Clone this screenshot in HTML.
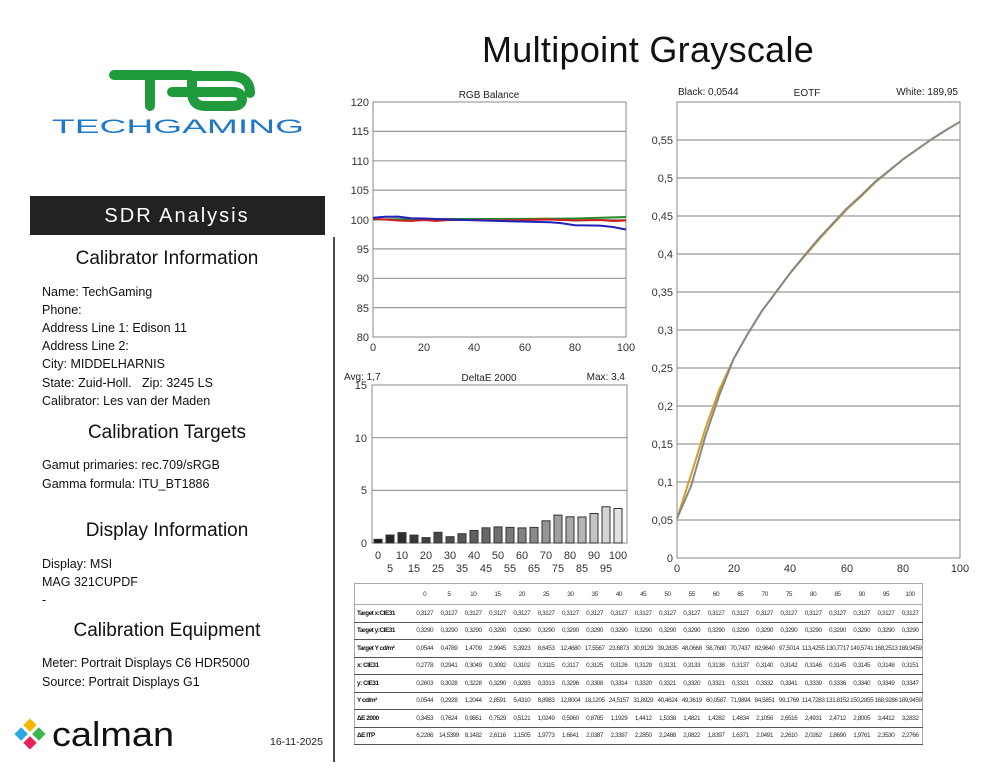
<!DOCTYPE html>
<html><head><meta charset="utf-8"><style>
body{margin:0;width:994px;height:768px;background:#fff;position:relative;overflow:hidden;font-family:"Liberation Sans",sans-serif;color:#111}
.a{position:absolute;white-space:nowrap}
.h{font-size:19px;left:0;width:334px;text-align:center}
.l{font-size:12.5px;left:42px}
table{position:absolute;left:354px;top:583px;border-collapse:collapse;font-size:6.4px;letter-spacing:-0.45px;table-layout:fixed;width:568px}
td{border-bottom:1.5px solid #555;height:16.5px;padding:0;text-align:center;width:24.3px;color:#333;overflow:hidden}
td:first-child{text-align:left;font-weight:bold;width:58px;color:#111;padding-left:2px;border-left:1px solid #aaa}
tr:first-child td{height:20px;border-bottom:1px solid #aaa;border-top:1px solid #aaa}
td:last-child{border-right:1px solid #aaa}
</style></head><body>
<div class="a" style="left:482px;top:29px;font-size:36px;letter-spacing:0.3px">Multipoint Grayscale</div>
<svg class="a" style="left:0;top:0" width="994" height="768">
<g fill="none" stroke="#1f9a3d" stroke-width="10" stroke-linecap="round">
<path d="M114 75 H190 M150 75 V106"/>
<path d="M172 92 H232 Q242 92 242 99 Q242 106 232 106 H205 Q192 106 192 92 V76 H230 Q250 76 250 93"/>
</g>
<text x="52" y="133" font-size="19" fill="#1e78c8" font-family="Liberation Sans" textLength="252" lengthAdjust="spacingAndGlyphs" transform="translate(0,0)">TECHGAMING</text>
<rect x="30" y="196" width="295" height="39" fill="#222"/>
<text x="177" y="222" font-size="20" fill="#fff" text-anchor="middle" letter-spacing="2">SDR Analysis</text>
<line x1="334" y1="237" x2="334" y2="762" stroke="#111" stroke-width="1.5"/>
<g transform="translate(30,734) rotate(45)"><rect x="-11" y="-11" width="9.5" height="9.5" fill="#f5b800"/><rect x="1.5" y="-11" width="9.5" height="9.5" fill="#3cb54a"/><rect x="-11" y="1.5" width="9.5" height="9.5" fill="#2aa8e0"/><rect x="1.5" y="1.5" width="9.5" height="9.5" fill="#e4245b"/></g>
<text x="52" y="746" font-size="34" fill="#111" textLength="122" lengthAdjust="spacingAndGlyphs">calman</text>
<text x="270" y="745" font-size="10.5" fill="#222">16-11-2025</text>
<g stroke="#999" stroke-width="1.2">
<line x1="373" x2="626" y1="307.6" y2="307.6"/><line x1="373" x2="626" y1="278.3" y2="278.3"/><line x1="373" x2="626" y1="248.9" y2="248.9"/><line x1="373" x2="626" y1="219.5" y2="219.5"/><line x1="373" x2="626" y1="190.1" y2="190.1"/><line x1="373" x2="626" y1="160.8" y2="160.8"/><line x1="373" x2="626" y1="131.4" y2="131.4"/>
</g>
<rect x="373" y="102" width="253" height="235" fill="none" stroke="#888"/>
<g font-size="11" fill="#333" text-anchor="end">
<text x="369" y="341">80</text><text x="369" y="312">85</text><text x="369" y="282">90</text><text x="369" y="253">95</text><text x="369" y="224">100</text><text x="369" y="194">105</text><text x="369" y="165">110</text><text x="369" y="135">115</text><text x="369" y="106">120</text>
</g>
<g font-size="11" fill="#333" text-anchor="middle"><text x="373" y="351">0</text><text x="424" y="351">20</text><text x="474" y="351">40</text><text x="525" y="351">60</text><text x="575" y="351">80</text><text x="626" y="351">100</text></g>
<text x="489" y="98" font-size="10" text-anchor="middle" fill="#222">RGB Balance</text>
<polyline fill="none" stroke="#2a8a2a" stroke-width="2" points="373,219.5 424,219 474,219 525,218.9 575,218.5 626,217"/>
<polyline fill="none" stroke="#cc2020" stroke-width="2" points="373,219 385,219.5 398,220.5 411,221 424,220 436,221 449,220 474,220 500,220.5 525,220 550,219.5 575,220.5 600,220 613,221 626,220.5"/>
<polyline fill="none" stroke="#2222bb" stroke-width="2" points="373,217.7 385,216.8 398,216.6 411,218.3 424,218.5 449,219.5 474,220.3 500,221 525,221.6 550,222.2 560,223 575,225.2 600,225.6 613,227 620,228.4 626,229.5"/>
<g stroke="#999" stroke-width="1.2"><line x1="372" x2="627" y1="490.4" y2="490.4"/><line x1="372" x2="627" y1="437.7" y2="437.7"/></g>
<rect x="372" y="385" width="255" height="158" fill="none" stroke="#888"/>
<g font-size="11" fill="#333" text-anchor="end"><text x="367" y="547">0</text><text x="367" y="494">5</text><text x="367" y="442">10</text><text x="367" y="389">15</text></g>
<text x="344" y="380" font-size="10" fill="#222">Avg: 1,7</text><text x="489" y="381" font-size="10" text-anchor="middle" fill="#222">DeltaE 2000</text><text x="625" y="380" font-size="10" text-anchor="end" fill="#222">Max: 3,4</text>
<g stroke="#333" stroke-width="1">
<rect x="374" y="539.3" width="8" height="3.7" fill="#1a1a1a"/><rect x="386" y="535" width="8" height="8" fill="#262626"/><rect x="398" y="532.6" width="8" height="10.4" fill="#2e2e2e"/><rect x="410" y="535.1" width="8" height="7.9" fill="#383838"/><rect x="422" y="537.6" width="8" height="5.4" fill="#404040"/><rect x="434" y="532.3" width="8" height="10.7" fill="#484848"/><rect x="446" y="536.7" width="8" height="6.3" fill="#505050"/><rect x="458" y="533.7" width="8" height="9.3" fill="#585858"/><rect x="470" y="530.5" width="8" height="12.5" fill="#606060"/><rect x="482" y="527.8" width="8" height="15.2" fill="#686868"/><rect x="494" y="526.9" width="8" height="16.1" fill="#707070"/><rect x="506" y="527.4" width="8" height="15.6" fill="#797979"/><rect x="518" y="527.9" width="8" height="15.1" fill="#828282"/><rect x="530" y="527.4" width="8" height="15.6" fill="#8b8b8b"/><rect x="542" y="520.8" width="8" height="22.2" fill="#959595"/><rect x="554" y="515.1" width="8" height="27.9" fill="#a0a0a0"/><rect x="566" y="516.8" width="8" height="26.2" fill="#aaa"/><rect x="578" y="517" width="8" height="26" fill="#b6b6b6"/><rect x="590" y="513.5" width="8" height="29.5" fill="#c4c4c4"/><rect x="602" y="506.8" width="8" height="36.2" fill="#d4d4d4"/><rect x="614" y="508.5" width="8" height="34.5" fill="#e2e2e2"/>
</g>
<g font-size="11" fill="#333" text-anchor="middle"><text x="378" y="559">0</text><text x="402" y="559">10</text><text x="426" y="559">20</text><text x="450" y="559">30</text><text x="474" y="559">40</text><text x="498" y="559">50</text><text x="522" y="559">60</text><text x="546" y="559">70</text><text x="570" y="559">80</text><text x="594" y="559">90</text><text x="618" y="559">100</text>
<text x="390" y="572">5</text><text x="414" y="572">15</text><text x="438" y="572">25</text><text x="462" y="572">35</text><text x="486" y="572">45</text><text x="510" y="572">55</text><text x="534" y="572">65</text><text x="558" y="572">75</text><text x="582" y="572">85</text><text x="606" y="572">95</text></g>
<g stroke="#999" stroke-width="1.2"><line x1="677" x2="960" y1="520" y2="520"/><line x1="677" x2="960" y1="482" y2="482"/><line x1="677" x2="960" y1="444" y2="444"/><line x1="677" x2="960" y1="406" y2="406"/><line x1="677" x2="960" y1="368" y2="368"/><line x1="677" x2="960" y1="330" y2="330"/><line x1="677" x2="960" y1="292" y2="292"/><line x1="677" x2="960" y1="254" y2="254"/><line x1="677" x2="960" y1="216" y2="216"/><line x1="677" x2="960" y1="178" y2="178"/><line x1="677" x2="960" y1="140" y2="140"/></g>
<rect x="677" y="102" width="283" height="456" fill="none" stroke="#888"/>
<g font-size="11" fill="#333" text-anchor="end"><text x="673" y="562">0</text><text x="673" y="524">0,05</text><text x="673" y="486">0,1</text><text x="673" y="448">0,15</text><text x="673" y="410">0,2</text><text x="673" y="372">0,25</text><text x="673" y="334">0,3</text><text x="673" y="296">0,35</text><text x="673" y="258">0,4</text><text x="673" y="220">0,45</text><text x="673" y="182">0,5</text><text x="673" y="144">0,55</text></g>
<g font-size="11" fill="#333" text-anchor="middle"><text x="677" y="572">0</text><text x="734" y="572">20</text><text x="790" y="572">40</text><text x="847" y="572">60</text><text x="903" y="572">80</text><text x="960" y="572">100</text></g>
<text x="678" y="95" font-size="10" fill="#222">Black: 0,0544</text><text x="807" y="96" font-size="10" text-anchor="middle" fill="#222">EOTF</text><text x="958" y="95" font-size="10" text-anchor="end" fill="#222">White: 189,95</text>
<polyline fill="none" stroke="#d4a020" stroke-width="2" points="677,518.5 691.2,474.4 705.3,428.8 719.5,389.3 733.6,358.9 747.8,333.8 761.9,311 776.1,292 790.2,273 804.4,256.5 818.5,240 832.7,224.6 846.8,209.4 861,196.5 875.1,182.5 889.3,170.8 903.4,159 917.6,149.1 931.7,139.2 945.9,130.1 960,121.8"/>
<polyline fill="none" stroke="#888" stroke-width="2" points="677,518.5 691.2,485.8 705.3,436.4 719.5,394.6 733.6,358.9 747.8,333.8 761.9,311 776.1,292 790.2,273 804.4,255.5 818.5,238.8 832.7,223.6 846.8,208.4 861,195.5 875.1,181.8 889.3,170.4 903.4,159 917.6,149.1 931.7,139.2 945.9,130.1 960,121.8"/>
</svg>
<div class="a h" style="top:248px">Calibrator Information</div>
<div class="a l" style="top:285px">Name: TechGaming</div>
<div class="a l" style="top:303px">Phone:</div>
<div class="a l" style="top:321px">Address Line 1: Edison 11</div>
<div class="a l" style="top:339px">Address Line 2:</div>
<div class="a l" style="top:357px">City: MIDDELHARNIS</div>
<div class="a l" style="top:376px">State: Zuid-Holl.&nbsp;&nbsp;&nbsp;Zip: 3245 LS</div>
<div class="a l" style="top:394px">Calibrator: Les van der Maden</div>
<div class="a h" style="top:422px">Calibration Targets</div>
<div class="a l" style="top:458px">Gamut primaries: rec.709/sRGB</div>
<div class="a l" style="top:477px">Gamma formula: ITU_BT1886</div>
<div class="a h" style="top:520px">Display Information</div>
<div class="a l" style="top:557px">Display: MSI</div>
<div class="a l" style="top:575px">MAG 321CUPDF</div>
<div class="a l" style="top:593px">-</div>
<div class="a h" style="top:620px">Calibration Equipment</div>
<div class="a l" style="top:656px">Meter: Portrait Displays C6 HDR5000</div>
<div class="a l" style="top:675px">Source: Portrait Displays G1</div>
<table>
<colgroup><col style="width:58px"><col span="21" style="width:24.29px"></colgroup>
<tr><td></td><td>0</td><td>5</td><td>10</td><td>15</td><td>20</td><td>25</td><td>30</td><td>35</td><td>40</td><td>45</td><td>50</td><td>55</td><td>60</td><td>65</td><td>70</td><td>75</td><td>80</td><td>85</td><td>90</td><td>95</td><td>100</td></tr>
<tr><td>Target x:CIE31</td><td>0,3127</td><td>0,3127</td><td>0,3127</td><td>0,3127</td><td>0,3127</td><td>0,3127</td><td>0,3127</td><td>0,3127</td><td>0,3127</td><td>0,3127</td><td>0,3127</td><td>0,3127</td><td>0,3127</td><td>0,3127</td><td>0,3127</td><td>0,3127</td><td>0,3127</td><td>0,3127</td><td>0,3127</td><td>0,3127</td><td>0,3127</td></tr>
<tr><td>Target y:CIE31</td><td>0,3290</td><td>0,3290</td><td>0,3290</td><td>0,3290</td><td>0,3290</td><td>0,3290</td><td>0,3290</td><td>0,3290</td><td>0,3290</td><td>0,3290</td><td>0,3290</td><td>0,3290</td><td>0,3290</td><td>0,3290</td><td>0,3290</td><td>0,3290</td><td>0,3290</td><td>0,3290</td><td>0,3290</td><td>0,3290</td><td>0,3290</td></tr>
<tr><td>Target Y cd/m²</td><td>0,0544</td><td>0,4789</td><td>1,4709</td><td>2,9945</td><td>5,3923</td><td>8,6453</td><td>12,4680</td><td>17,5567</td><td>23,6873</td><td>30,9129</td><td>39,2835</td><td>48,0668</td><td>58,7680</td><td>70,7437</td><td>82,9640</td><td>97,5014</td><td>113,4255</td><td>130,7717</td><td>149,5741</td><td>168,2513</td><td>189,9459</td></tr>
<tr><td>x: CIE31</td><td>0,2778</td><td>0,2941</td><td>0,3049</td><td>0,3092</td><td>0,3102</td><td>0,3115</td><td>0,3117</td><td>0,3125</td><td>0,3126</td><td>0,3129</td><td>0,3131</td><td>0,3133</td><td>0,3138</td><td>0,3137</td><td>0,3140</td><td>0,3142</td><td>0,3146</td><td>0,3145</td><td>0,3145</td><td>0,3148</td><td>0,3151</td></tr>
<tr><td>y: CIE31</td><td>0,2603</td><td>0,3028</td><td>0,3228</td><td>0,3290</td><td>0,3283</td><td>0,3313</td><td>0,3296</td><td>0,3308</td><td>0,3314</td><td>0,3320</td><td>0,3321</td><td>0,3320</td><td>0,3321</td><td>0,3321</td><td>0,3332</td><td>0,3341</td><td>0,3339</td><td>0,3336</td><td>0,3340</td><td>0,3349</td><td>0,3347</td></tr>
<tr><td>Y cd/m²</td><td>0,0544</td><td>0,2928</td><td>1,2044</td><td>2,8591</td><td>5,4310</td><td>8,8983</td><td>12,8004</td><td>18,1205</td><td>24,5157</td><td>31,8929</td><td>40,4624</td><td>49,3619</td><td>60,0587</td><td>71,9894</td><td>84,5851</td><td>99,1769</td><td>114,7283</td><td>131,8152</td><td>150,2855</td><td>168,9286</td><td>189,9459</td></tr>
<tr><td>ΔE 2000</td><td>0,3453</td><td>0,7624</td><td>0,9851</td><td>0,7529</td><td>0,5121</td><td>1,0249</td><td>0,5960</td><td>0,8785</td><td>1,1929</td><td>1,4412</td><td>1,5338</td><td>1,4821</td><td>1,4282</td><td>1,4834</td><td>2,1056</td><td>2,6516</td><td>2,4931</td><td>2,4712</td><td>2,8005</td><td>3,4412</td><td>3,2832</td></tr>
<tr><td>ΔE ITP</td><td>6,2286</td><td>14,5399</td><td>8,1482</td><td>2,6116</td><td>1,1505</td><td>1,9773</td><td>1,6641</td><td>2,0387</td><td>2,3397</td><td>2,2850</td><td>2,2488</td><td>2,0822</td><td>1,8397</td><td>1,6371</td><td>2,0491</td><td>2,2610</td><td>2,0262</td><td>1,8690</td><td>1,9761</td><td>2,3530</td><td>2,2766</td></tr>
</table>
</body></html>
